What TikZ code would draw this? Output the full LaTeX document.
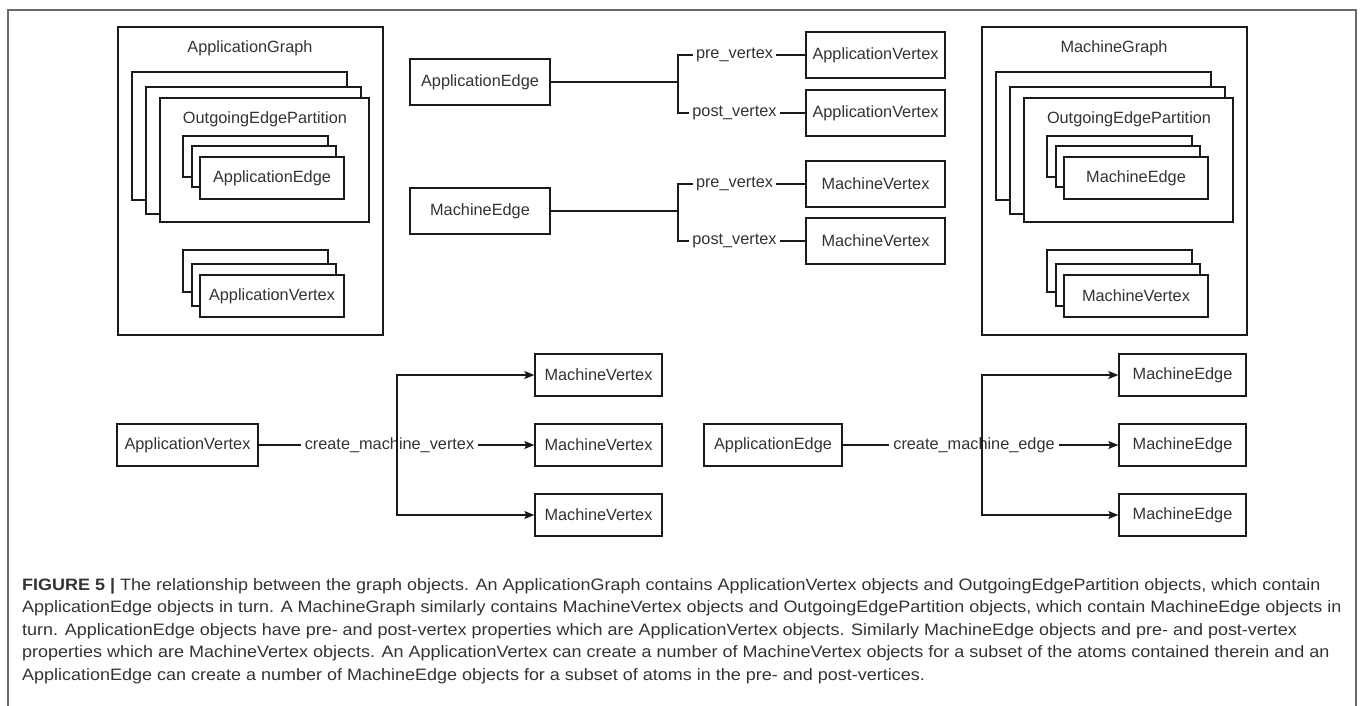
\documentclass[tikz,border=0pt]{standalone}
\usepackage{fontspec}
\setmainfont{Liberation Sans}
\newfontfamily\capfam[FakeStretch=1.09]{Liberation Sans}
\usetikzlibrary{arrows.meta}
\definecolor{txt}{HTML}{333333}
\definecolor{ln}{HTML}{1A1A1A}
\definecolor{frm}{HTML}{6A6A6A}
\newcommand{\diafont}{\fontsize{16.3pt}{19pt}\selectfont}
\newcommand{\capfont}{\capfam\fontsize{16.5pt}{20pt}\selectfont}
\newcommand{\bx}[6]{\node[bx, minimum width={(#4)-(#2)}, minimum height={(#5)-(#3)}] (#1) at ({((#2)+(#4))/2},{((#3)+(#5))/2}) {#6};}
\begin{document}
\begin{tikzpicture}[x=1pt, y=-1pt,
  bx/.style={draw=ln, line width=1.3pt, fill=white, inner sep=0pt, text=txt, font=\diafont},
  ttl/.style={inner sep=0pt, text=txt, font=\diafont},
  lbl/.style={fill=white, text=txt, font=\diafont, inner xsep=3pt, inner ysep=1pt},
  cn/.style={draw=ln, line width=1.3pt},
  arr/.style={-{Stealth[length=10pt,width=8pt,inset=2pt]}},
  capline/.style={anchor=base west, inner sep=0pt, text=txt, font=\capfont}]
\useasboundingbox (0,0) rectangle (1360,705);
% outer frame
\draw[frm, line width=1.2pt] (8,706) -- (8,10) -- (1356,10) -- (1356,706);

% ---------- ApplicationGraph ----------
\bx{ag}{118}{27}{383}{335}{}
\node[ttl] (agt) at (250,48) {ApplicationGraph};
\bx{aoepA}{132}{72}{347}{200}{}
\bx{aoepB}{146}{87}{361}{214}{}
\bx{aoepC}{160}{98}{369}{222}{}
\node[ttl] (aoept) at (265,119) {OutgoingEdgePartition};
\bx{aaeA}{183}{136}{328}{177}{}
\bx{aaeB}{192}{146}{336}{187}{}
\bx{aaeC}{200}{157}{344}{199}{ApplicationEdge}
\bx{aavA}{183}{250}{328}{292}{}
\bx{aavB}{192}{264}{336}{306}{}
\bx{aavC}{200}{275}{344}{317}{ApplicationVertex}

% ---------- MachineGraph ----------
\begin{scope}[xshift=864pt]
\bx{mg}{118}{27}{383}{335}{}
\node[ttl] (mgt) at (250,48) {MachineGraph};
\bx{moepA}{132}{72}{347}{200}{}
\bx{moepB}{146}{87}{361}{214}{}
\bx{moepC}{160}{98}{369}{222}{}
\node[ttl] (moept) at (265,119) {OutgoingEdgePartition};
\bx{meA}{183}{136}{328}{177}{}
\bx{meB}{192}{146}{336}{187}{}
\bx{meC}{200}{157}{344}{199}{MachineEdge}
\bx{mvA}{183}{250}{328}{292}{}
\bx{mvB}{192}{264}{336}{306}{}
\bx{mvC}{200}{275}{344}{317}{MachineVertex}
\end{scope}

% ---------- pre/post vertex (application) ----------
\bx{ae}{410}{59}{550}{105}{ApplicationEdge}
\bx{avpre}{806}{32}{945}{78}{ApplicationVertex}
\bx{avpost}{806}{90}{945}{136}{ApplicationVertex}
\coordinate (j1) at (678,82);
\draw[cn] (ae.east) -- (j1);
\draw[cn] (j1) |- (avpre.west);
\draw[cn] (j1) |- (avpost.west);
\node[lbl] (lpre1) at (734.5,55) {pre\_vertex};
\node[lbl] (lpost1) at (734.5,113) {post\_vertex};

% ---------- pre/post vertex (machine) ----------
\bx{me}{410}{188}{550}{234}{MachineEdge}
\bx{mvpre}{806}{161}{945}{207}{MachineVertex}
\bx{mvpost}{806}{218}{945}{264}{MachineVertex}
\coordinate (j2) at (678,211);
\draw[cn] (me.east) -- (j2);
\draw[cn] (j2) |- (mvpre.west);
\draw[cn] (j2) |- (mvpost.west);
\node[lbl] (lpre2) at (734.5,184) {pre\_vertex};
\node[lbl] (lpost2) at (734.5,241) {post\_vertex};

% ---------- create_machine_vertex ----------
\bx{bav}{117}{424}{258}{466}{ApplicationVertex}
\bx{bmv1}{535}{354}{662}{396}{MachineVertex}
\bx{bmv2}{535}{424}{662}{466}{MachineVertex}
\bx{bmv3}{535}{494}{662}{536}{MachineVertex}
\coordinate (j3) at (397,445);
\node[lbl, inner xsep=4pt] (cmv) at (389.5,445) {create\_machine\_vertex};
\draw[cn] (bav.east) -- (cmv.west);
\draw[cn, arr] (cmv.east) -- (bmv2.west);
\draw[cn, arr] (j3) |- (bmv1.west);
\draw[cn, arr] (j3) |- (bmv3.west);

% ---------- create_machine_edge ----------
\bx{bae}{704}{424}{842}{466}{ApplicationEdge}
\bx{bme1}{1119}{354}{1246}{396}{MachineEdge}
\bx{bme2}{1119}{424}{1246}{466}{MachineEdge}
\bx{bme3}{1119}{494}{1246}{536}{MachineEdge}
\coordinate (j4) at (982,445);
\node[lbl, inner xsep=4pt] (cme) at (974,445) {create\_machine\_edge};
\draw[cn] (bae.east) -- (cme.west);
\draw[cn, arr] (cme.east) -- (bme2.west);
\draw[cn, arr] (j4) |- (bme1.west);
\draw[cn, arr] (j4) |- (bme3.west);

% ---------- caption ----------
\node[capline] (cap1) at (22,590) {{\bfseries FIGURE 5 |} The relationship between the graph objects. An ApplicationGraph contains ApplicationVertex objects and OutgoingEdgePartition objects, which contain};
\node[capline] (cap2) at (22,612.5) {ApplicationEdge objects in turn. A MachineGraph similarly contains MachineVertex objects and OutgoingEdgePartition objects, which contain MachineEdge objects in};
\node[capline] (cap3) at (22,635) {turn. ApplicationEdge objects have pre- and post-vertex properties which are ApplicationVertex objects. Similarly MachineEdge objects and pre- and post-vertex};
\node[capline] (cap4) at (22,657.5) {properties which are MachineVertex objects. An ApplicationVertex can create a number of MachineVertex objects for a subset of the atoms contained therein and an};
\node[capline] (cap5) at (22,680) {ApplicationEdge can create a number of MachineEdge objects for a subset of atoms in the pre- and post-vertices.};
\end{tikzpicture}
\end{document}
